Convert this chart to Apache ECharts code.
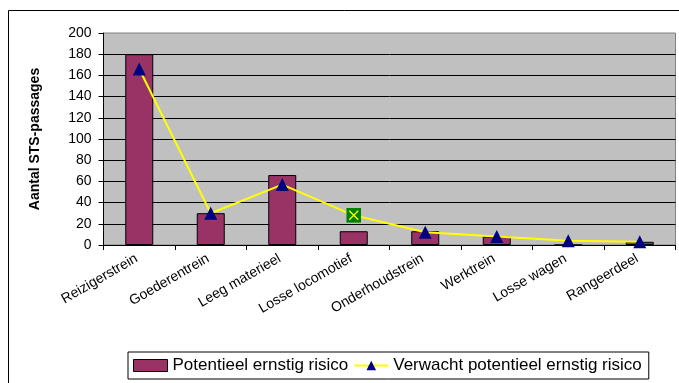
<!DOCTYPE html>
<html>
<head>
<meta charset="utf-8">
<script src="https://cdn.jsdelivr.net/npm/echarts@6/dist/echarts.min.js"></script>
<style>
html,body{margin:0;padding:0;background:#fff;}
#chart{width:679px;height:383px;}
</style>
</head>
<body>
<div id="chart"></div>
<script>
const categories = ['Reizigerstrein','Goederentrein','Leeg materieel','Losse locomotief','Onderhoudstrein','Werktrein','Losse wagen','Rangeerdeel'];
const potentieel = [180, 30, 66, 13, 13, 8, 0, 3];
const verwacht = [166, 30, 57, 28, 12, 8, 4, 3];
const yTicks = [0, 20, 40, 60, 80, 100, 120, 140, 160, 180, 200];
const seriesNames = ['Potentieel ernstig risico', 'Verwacht potentieel ernstig risico'];
const specialIndex = 3;

const specialSvg = 'image://data:image/svg+xml;utf8,' + encodeURIComponent(
  '<svg xmlns="http://www.w3.org/2000/svg" width="15" height="15" viewBox="0 0 15 15">' +
  '<rect x="0" y="0" width="15" height="15" fill="#008000"/>' +
  '<path d="M3 3 L12 12 M12 3 L3 12" stroke="#FFFF00" stroke-width="1.3"/></svg>');

const lineData = verwacht.map((v, i) => i === specialIndex
  ? { value: v, symbol: specialSvg, symbolSize: [15, 15] }
  : v);

const chart = echarts.init(document.getElementById('chart'), null, { renderer: 'canvas' });
chart.setOption({
  backgroundColor: '#fff',
  animation: false,
  textStyle: { fontFamily: 'Liberation Sans, Arial, sans-serif' },
  graphic: [{
    type: 'rect', left: 6, top: 8, z: -10, silent: true,
    shape: { width: 700, height: 400 },
    style: { fill: 'none', stroke: '#000', lineWidth: 1 }
  }],
  grid: {
    left: 103.5, top: 33, right: 3.5, bottom: 138,
    show: true, backgroundColor: '#C0C0C0', borderColor: '#808080', borderWidth: 1
  },
  legend: {
    left: 128, top: 352,
    orient: 'horizontal',
    padding: [5, 7, 5, 5],
    itemGap: 5,
    itemWidth: 34, itemHeight: 12,
    borderColor: '#000', borderWidth: 1, backgroundColor: '#fff',
    textStyle: { fontSize: 17, color: '#000', fontFamily: 'Liberation Sans, Arial, sans-serif' },
    data: [
      { name: seriesNames[0], icon: 'rect', itemStyle: { color: '#993366', borderColor: '#000', borderWidth: 1 } },
      { name: seriesNames[1] }
    ]
  },
  xAxis: {
    type: 'category',
    data: categories,
    boundaryGap: true,
    axisLine: { lineStyle: { color: '#000', width: 1 } },
    axisTick: { show: true, alignWithLabel: false, length: 5, lineStyle: { color: '#000' } },
    axisLabel: { rotate: 30, fontSize: 14, color: '#000', margin: 11, interval: 0, padding: [0, 3, 0, 0] },
    splitLine: { show: false }
  },
  yAxis: {
    type: 'value',
    min: yTicks[0], max: yTicks[yTicks.length - 1], interval: 20,
    name: 'Aantal STS-passages',
    nameLocation: 'middle',
    nameGap: 61,
    nameTextStyle: { fontSize: 14, fontWeight: 'bold', color: '#000' },
    axisLine: { show: true, lineStyle: { color: '#000', width: 1 } },
    axisTick: { show: true, length: 5, lineStyle: { color: '#000' } },
    axisLabel: { fontSize: 14, color: '#000', margin: 12 },
    splitLine: { show: true, showMaxLine: false, lineStyle: { color: '#000', width: 1 } }
  },
  series: [
    {
      name: seriesNames[0],
      type: 'bar',
      data: potentieel,
      barWidth: 28,
      itemStyle: { color: '#993366', borderColor: '#000', borderWidth: 1 },
      z: 2
    },
    {
      name: seriesNames[1],
      type: 'line',
      data: lineData,
      symbol: 'triangle',
      symbolSize: [13, 13],
      showAllSymbol: true,
      lineStyle: { color: '#FFFF00', width: 2 },
      itemStyle: { color: '#000080' },
      z: 3
    }
  ]
});
</script>
</body>
</html>
